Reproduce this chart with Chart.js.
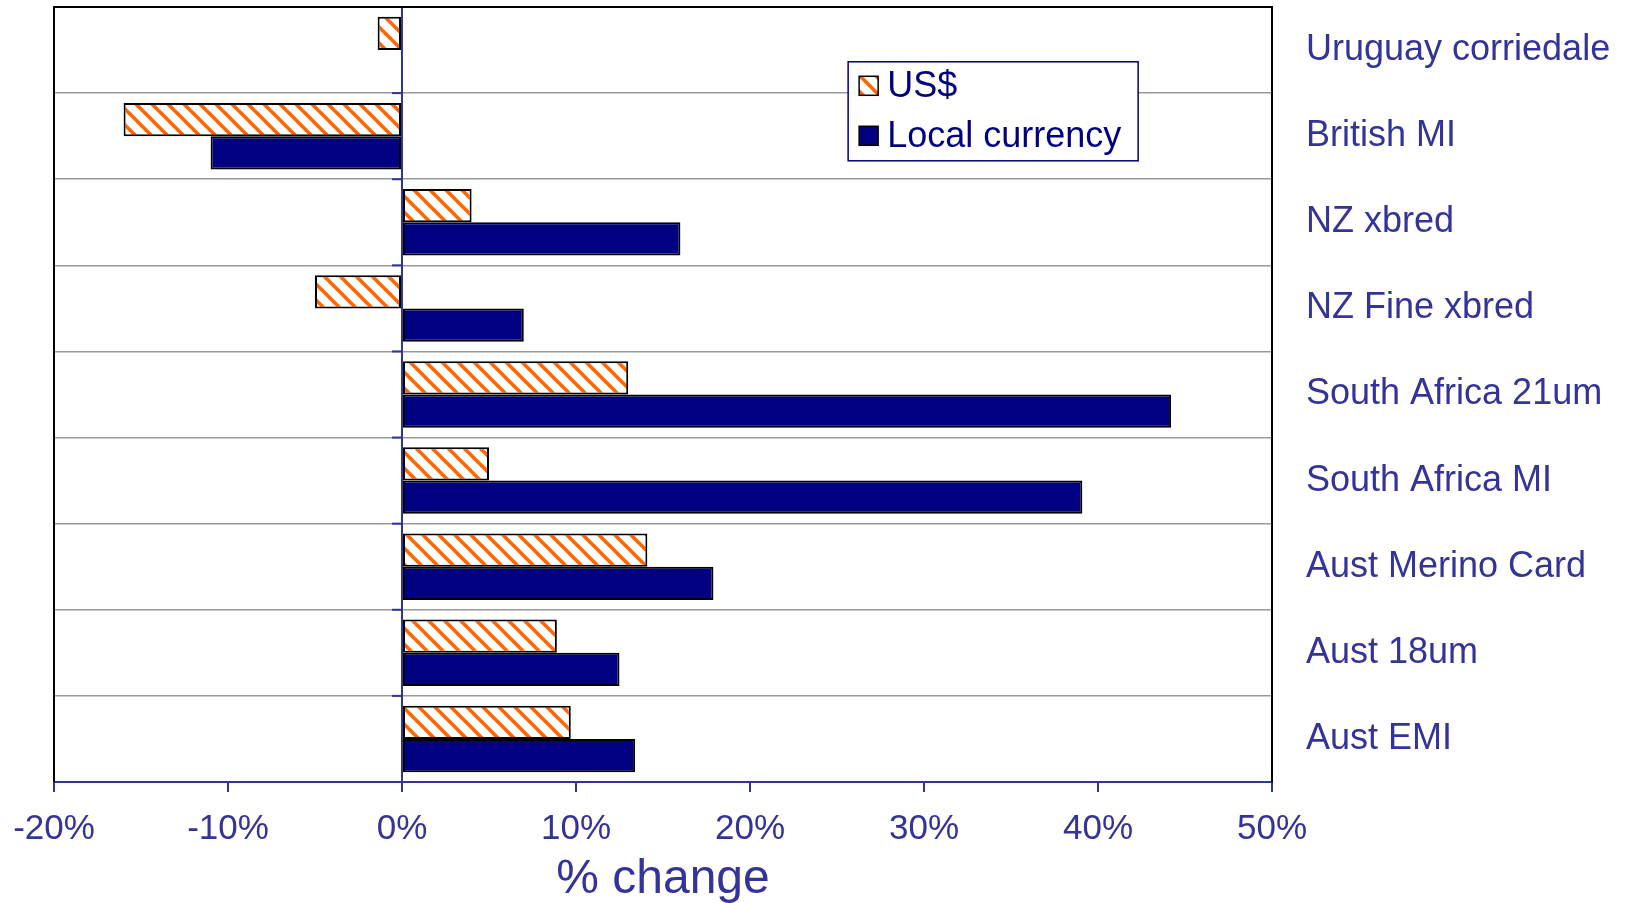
<!DOCTYPE html>
<html>
<head>
<meta charset="utf-8">
<script src="https://cdn.jsdelivr.net/npm/chart.js@4/dist/chart.umd.min.js"></script>
<style>
  html, body { margin: 0; padding: 0; background: #fff; }
  canvas { display: block; }
</style>
</head>
<body>
<canvas id="c" width="1634" height="903"></canvas>
<script>
// ---- data ----
const categories = ["Uruguay corriedale", "British MI", "NZ xbred", "NZ Fine xbred", "South Africa 21um", "South Africa MI", "Aust Merino Card", "Aust 18um", "Aust EMI"];
const usdChange = [-1.4, -16.0, 4.0, -5.0, 13.0, 5.0, 14.1, 8.9, 9.7];
const localChange = [null, -11.0, 16.0, 7.0, 44.2, 39.1, 17.9, 12.5, 13.4];
const seriesNames = ["US$", "Local currency"];
const xMin = -20, xMax = 50, xStep = 10;
const xTitle = "% change";

// ---- styles ----
const NAVY = "#000080";
const LABEL = "#333399";
const FONT = "'Liberation Sans', Arial, sans-serif";

function hatchPattern() {
  const c = document.createElement("canvas");
  c.width = 16; c.height = 16;
  const g = c.getContext("2d");
  g.fillStyle = "#ffffff"; g.fillRect(0, 0, 16, 16);
  g.strokeStyle = "#FF6600"; g.lineWidth = 3.6;
  for (const o of [-16, 0, 16]) {
    g.beginPath(); g.moveTo(o - 4, -4); g.lineTo(o + 20, 20); g.stroke();
  }
  return g.createPattern(c, "repeat");
}
const hatch = hatchPattern();

const framePlugin = {
  id: "frame",
  afterDatasetsDraw(chart) {
    const { ctx, chartArea: a, scales: { x, y } } = chart;
    ctx.save();
    const x0 = x.getPixelForValue(0);
    ctx.strokeStyle = LABEL; ctx.lineWidth = 2;
    ctx.beginPath(); ctx.moveTo(x0, a.top); ctx.lineTo(x0, a.bottom); ctx.stroke();
    for (let i = 0; i <= categories.length; i++) {
      const yy = y.getPixelForValue(i - 0.5);
      ctx.beginPath(); ctx.moveTo(x0 - 10, yy); ctx.lineTo(x0, yy); ctx.stroke();
    }
    ctx.strokeStyle = "#000"; ctx.lineWidth = 2;
    ctx.beginPath();
    ctx.moveTo(a.left, a.bottom); ctx.lineTo(a.left, a.top); ctx.lineTo(a.right, a.top);
    ctx.stroke();
    ctx.restore();
  },
  afterDraw(chart) {
    const { ctx, chartArea: a } = chart;
    const w = a.right - a.left, h = a.bottom - a.top;
    const bx = a.left + 0.652 * w, by = a.top + 0.0707 * h;
    const bw = 290, bh = 99;
    ctx.save();
    ctx.fillStyle = "#fff"; ctx.fillRect(bx, by, bw, bh);
    ctx.strokeStyle = NAVY; ctx.lineWidth = 1.5; ctx.strokeRect(bx, by, bw, bh);
    const ds = chart.data.datasets;
    const rows = [by + 24.5, by + 74.5];
    ctx.font = "36px " + FONT;
    ctx.textBaseline = "middle";
    ctx.textAlign = "left";
    ds.forEach((d, i) => {
      const cy = rows[i];
      ctx.fillStyle = d.backgroundColor;
      ctx.fillRect(bx + 11, cy - 10, 19, 19);
      ctx.strokeStyle = "#000"; ctx.lineWidth = 1.5;
      ctx.strokeRect(bx + 11, cy - 10, 19, 19);
      ctx.fillStyle = NAVY;
      ctx.fillText(d.label, bx + 39, cy + 1);
    });
    ctx.restore();
  }
};

new Chart(document.getElementById("c"), {
  type: "bar",
  data: {
    labels: categories,
    datasets: [
      { label: seriesNames[0], data: usdChange, backgroundColor: hatch, borderColor: "#000", borderWidth: 2, borderSkipped: false },
      { label: seriesNames[1], data: localChange, backgroundColor: NAVY, borderColor: "#000", borderWidth: 2, borderSkipped: false }
    ]
  },
  options: {
    indexAxis: "y",
    responsive: false,
    animation: false,
    devicePixelRatio: 1,
    layout: { padding: { left: 54, top: 7, right: 0, bottom: 0 } },
    datasets: { bar: { categoryPercentage: 0.772, barPercentage: 1.0 } },
    plugins: { legend: { display: false }, tooltip: { enabled: false } },
    scales: {
      x: {
        min: xMin, max: xMax,
        ticks: { stepSize: xStep, color: LABEL, font: { family: FONT, size: 35 }, padding: 16, maxRotation: 0,
                 callback: v => v + "%" },
        grid: { color: c => (c.tick && c.tick.value === 0) ? LABEL : "transparent", tickColor: LABEL, tickLength: 10, lineWidth: 2 },
        border: { color: LABEL, width: 2 },
        title: { display: true, text: xTitle, color: LABEL, font: { family: FONT, size: 48 }, padding: { top: 0, bottom: -6 } },
        afterFit(s) { s.height = 121; s.paddingLeft = 0; s.paddingRight = 0; }
      },
      y: {
        position: "right",
        ticks: { color: LABEL, font: { family: FONT, size: 36 }, padding: 34 },
        grid: { color: "#999999", lineWidth: 1.5, drawTicks: false },
        border: { color: "#000", width: 2 },
        afterFit(s) { s.width = 362; s.paddingTop = 0; s.paddingBottom = 0; }
      }
    }
  },
  plugins: [framePlugin]
});
</script>
</body>
</html>
